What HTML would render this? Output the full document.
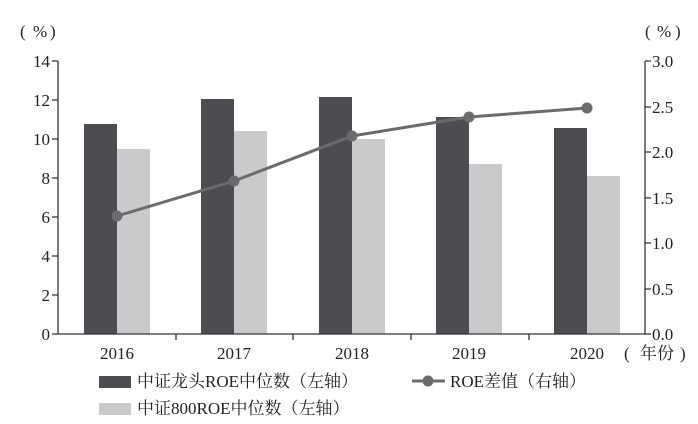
<!DOCTYPE html>
<html><head><meta charset="utf-8"><style>
html,body{margin:0;padding:0;background:#fff;width:698px;height:424px;overflow:hidden}
svg text{font-family:"Liberation Serif","Noto Serif CJK SC",serif;fill:#222}
</style></head><body>
<svg width="698" height="424" viewBox="0 0 698 424" xmlns="http://www.w3.org/2000/svg">
<g font-size="17">
<text x="20" y="37">(</text><text x="33" y="37">%</text><text x="50" y="37">)</text>
<text x="645" y="37">(</text><text x="657" y="37">%</text><text x="675" y="37">)</text>
</g>
<g fill="#4f4c51">
<rect x="84" y="124" width="33" height="210"/>
<rect x="201" y="99" width="33" height="235"/>
<rect x="319" y="97" width="33" height="237"/>
<rect x="436" y="117" width="33" height="217"/>
<rect x="554" y="128" width="33" height="206"/>
</g>
<g fill="#c9cacc">
<rect x="117" y="149" width="33" height="185"/>
<rect x="234" y="131" width="33" height="203"/>
<rect x="352" y="139" width="33" height="195"/>
<rect x="469" y="164" width="33" height="170"/>
<rect x="587" y="176" width="33" height="158"/>
</g>
<g stroke="#333" stroke-width="1.3" fill="none">
<line x1="58" y1="61" x2="58" y2="334"/>
<line x1="645" y1="61" x2="645" y2="334"/>
<line x1="58" y1="334" x2="645" y2="334"/>
<path d="M52 61H58M52 100H58M52 139H58M52 178H58M52 217H58M52 256H58M52 295H58M52 334H58"/>
<path d="M645 61H651M645 107H651M645 152H651M645 198H651M645 243H651M645 289H651M645 334H651"/>
<path d="M176 334V340M293 334V340M411 334V340M529 334V340"/>
</g>
<g font-size="17" text-anchor="end">
<text x="50" y="67">14</text><text x="50" y="106">12</text><text x="50" y="145">10</text>
<text x="50" y="184">8</text><text x="50" y="223">6</text><text x="50" y="262">4</text>
<text x="50" y="301">2</text><text x="50" y="340">0</text>
</g>
<g font-size="17">
<text x="652" y="67">3.0</text><text x="652" y="113">2.5</text><text x="652" y="158">2.0</text>
<text x="652" y="204">1.5</text><text x="652" y="249">1.0</text><text x="652" y="295">0.5</text>
<text x="652" y="340">0.0</text>
</g>
<g font-size="17" text-anchor="middle">
<text x="117" y="359">2016</text><text x="234" y="359">2017</text><text x="352" y="359">2018</text>
<text x="469" y="359">2019</text><text x="587" y="359">2020</text>
</g>
<g font-size="17">
<text x="624" y="359">(</text><text x="640" y="359">年份</text><text x="680" y="359">)</text>
</g>
<polyline points="117,216 234,181 352,136 469,117 587,108" fill="none" stroke="#6b6b6d" stroke-width="3"/>
<g fill="#6b6b6d">
<circle cx="117" cy="216" r="5.5"/><circle cx="234" cy="181" r="5.5"/><circle cx="352" cy="136" r="5.5"/>
<circle cx="469" cy="117" r="5.5"/><circle cx="587" cy="108" r="5.5"/>
</g>
<rect x="99" y="376" width="32" height="12" fill="#4f4c51"/>
<text x="137" y="387" font-size="17">中证龙头ROE中位数（左轴）</text>
<line x1="412" y1="381" x2="445" y2="381" stroke="#6b6b6d" stroke-width="3"/>
<circle cx="428" cy="381" r="5.5" fill="#6b6b6d"/>
<text x="450" y="387" font-size="17">ROE差值（右轴）</text>
<rect x="99" y="403" width="32" height="12" fill="#c9cacc"/>
<text x="137" y="414" font-size="17">中证800ROE中位数（左轴）</text>
</svg>
</body></html>
